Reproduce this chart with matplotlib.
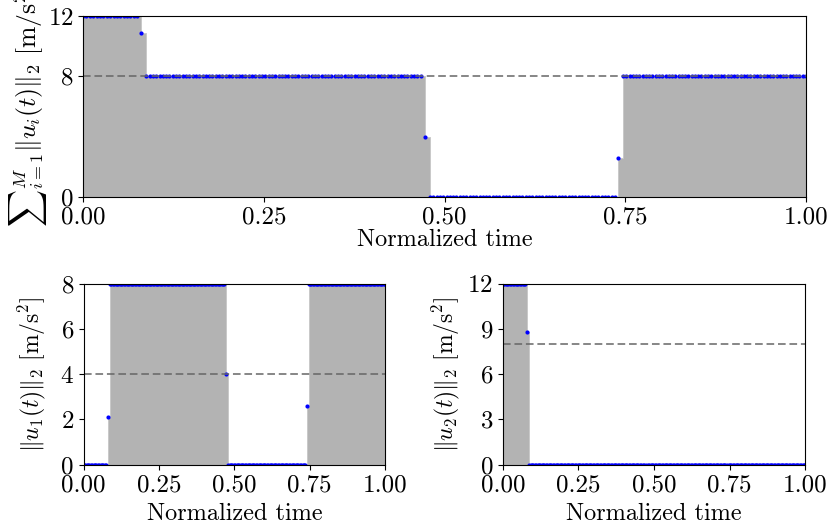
import numpy as np
import matplotlib
matplotlib.use("Agg")
import matplotlib.pyplot as plt

plt.rcParams['font.family'] = 'serif'
plt.rcParams['font.serif'] = ['cmr10']
plt.rcParams['mathtext.fontset'] = 'cm'
plt.rcParams['axes.formatter.use_mathtext'] = True
plt.rcParams['font.size'] = 18

# constant-thrust arcs (normalized time) and the switching samples between them
phase_start = [0.0, 0.0876, 0.480, 0.747]
phase_end = [0.075, 0.467, 0.7356, 1.0]
phase_nodes = [17, 84, 57, 57]
phase_u1 = [0.0, 8.0, 0.0, 8.0]
phase_u2 = [12.0, 0.0, 0.0, 0.0]

switch_t = [0.080, 0.4734, 0.7403]
switch_u1 = [2.1, 4.0, 2.6]
switch_u2 = [8.8, 0.0, 0.0]

u1_max = 8.0
u2_max = 12.0
sum_max = 8.0


def build():
    ts, a, b = [], [], []
    for k in range(len(phase_start)):
        tt = np.linspace(phase_start[k], phase_end[k], phase_nodes[k])
        ts.append(tt)
        a.append(np.full(len(tt), phase_u1[k]))
        b.append(np.full(len(tt), phase_u2[k]))
        if k < len(switch_t):
            ts.append([switch_t[k]])
            a.append([switch_u1[k]])
            b.append([switch_u2[k]])
    return np.concatenate(ts), np.concatenate(a), np.concatenate(b)


t, u1, u2 = build()
u_sum = u1 + u2


def draw(ax, vals, limit, top, yticks, pad):
    ax.fill_between(t, vals, step='post', color='0.7', lw=0.6, edgecolor='0.78')
    ax.plot(t, vals, 'o', color='blue', ms=3.0, mew=0)
    ax.axhline(limit, color='0.4', ls='--', lw=1.1, dashes=(5, 2.5))
    ax.set_xlim(0, 1)
    ax.set_ylim(0, top)
    ax.set_yticks(yticks)
    ax.set_xticks([0, 0.25, 0.5, 0.75, 1.0])
    ax.set_xticklabels(['0.00', '0.25', '0.50', '0.75', '1.00'])
    ax.set_xlabel('Normalized time', fontsize=17.5, labelpad=pad)


fig = plt.figure(figsize=(8.31, 5.29), dpi=100)
ax0 = fig.add_axes([0.0999, 0.6276, 0.870, 0.342])
ax1 = fig.add_axes([0.1007, 0.1219, 0.3626, 0.342])
ax2 = fig.add_axes([0.605, 0.1219, 0.364, 0.342])

draw(ax0, u_sum, sum_max, 12, [0, 8, 12], 0)
ax0.set_ylabel(r'$\sum{}_{i=1}^{M}\|u_i(t)\|_2\ [\mathrm{m/s^2}]$', fontsize=18.5, labelpad=-1)

draw(ax1, u1, u1_max / 2, 8, [0, 2, 4, 6, 8], 5)
ax1.set_ylabel(r'$\|u_1(t)\|_2\ [\mathrm{m/s^2}]$', fontsize=17, labelpad=9)

draw(ax2, u2, sum_max, 12, [0, 3, 6, 9, 12], 5)
ax2.set_ylabel(r'$\|u_2(t)\|_2\ [\mathrm{m/s^2}]$', fontsize=17, labelpad=4)

fig.savefig('out.png', dpi=100)
